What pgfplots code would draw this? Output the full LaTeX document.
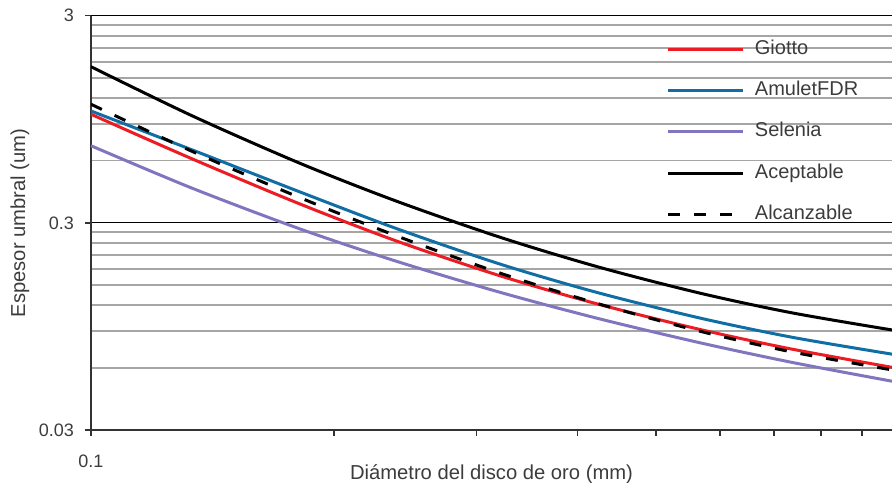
\documentclass[border=0pt]{standalone}
\usepackage{pgfplots}
\pgfplotsset{compat=1.18}
\usepackage{fontspec}
\setmainfont{Liberation Sans}
\definecolor{cRed}{RGB}{237,28,36}
\definecolor{cBlue}{RGB}{16,110,165}
\definecolor{cPurple}{RGB}{128,118,192}
\definecolor{cText}{RGB}{60,60,60}
\begin{document}
\begin{tikzpicture}
\begin{axis}[
  name=ax,
  scale only axis,
  width=400.5pt, height=207.15pt,
  xmode=log, ymode=log,
  xmin=0.1, xmax=0.98,
  ymin=0.03, ymax=3,
  axis x line*=bottom, axis y line*=left,
  axis line style={-, draw=black!80, line width=0.9pt},
  xtick={0.1}, xticklabels={0.1},
  minor xtick={0.2,0.3,0.4,0.5,0.6,0.7,0.8,0.9},
  ytick={0.03,0.3,3}, yticklabels={0.03,0.3,3},
  minor ytick={0.06,0.09,0.12,0.15,0.18,0.21,0.24,0.27,0.6,0.9,1.2,1.5,1.8,2.1,2.4,2.7},
  tick align=outside,
  major tick length=3pt, minor tick length=3pt,
  tick style={draw=black!80, line width=0.8pt},
  minor y tick style={draw=none},
  ymajorgrids, yminorgrids,
  major grid style={draw=black, line width=0.6pt},
  minor grid style={draw=black!35, line width=0.9pt},
  ticklabel style={font=\fontsize{9}{10}\selectfont, text=cText},
  xticklabel style={yshift=-6pt},
  yticklabel style={xshift=-2pt},
  xlabel={Diámetro del disco de oro (mm)},
  ylabel={Espesor umbral (um)},
  label style={font=\fontsize{10.1}{12}\selectfont, text=cText},
  xlabel style={at={(axis description cs:0.5,0)}, anchor=base, yshift=-25pt},
  ylabel style={at={(axis description cs:0,0.5)}, anchor=center, yshift=35.5pt},
  legend image code/.code={\draw[#1] (0pt,0pt) -- (37.5pt,0pt); \path (42.5pt,0pt);},
  legend style={draw=none, fill=none, inner sep=0pt, outer sep=0pt,
    at={(rel axis cs:0.719,0.94)}, anchor=north west,
    font=\fontsize{10}{12}\selectfont, text=cText,
    row sep=11.6pt,
    nodes={inner ysep=0pt, inner xsep=0pt, text height=7pt, text depth=2pt}},
  legend cell align=left,
  every axis plot/.append style={line width=1.5pt, smooth},
]
\addplot[cRed] coordinates {
 (0.1,1.003) (0.1334,0.611) (0.1814,0.370) (0.2385,0.2456) (0.3208,0.1665)
 (0.4242,0.1215) (0.5671,0.0917) (0.7372,0.0737) (0.98,0.0602)};
\addlegendentry{Giotto}
\addplot[cBlue] coordinates {
 (0.1,1.040) (0.1334,0.675) (0.1814,0.423) (0.2385,0.282) (0.3208,0.1897)
 (0.4242,0.1379) (0.5671,0.1041) (0.7372,0.0841) (0.98,0.0697)};
\addlegendentry{AmuletFDR}
\addplot[cPurple] coordinates {
 (0.1,0.707) (0.1334,0.441) (0.1814,0.2804) (0.2385,0.1960) (0.3208,0.1386)
 (0.4242,0.1036) (0.5671,0.0791) (0.7372,0.0636) (0.98,0.0516)};
\addlegendentry{Selenia}
\addplot[black] coordinates {
 (0.1,1.702) (0.1334,0.986) (0.1814,0.5817) (0.2385,0.3824) (0.3208,0.2556)
 (0.4242,0.1838) (0.5671,0.1373) (0.7372,0.1103) (0.98,0.0912)};
\addlegendentry{Aceptable}
\addplot[black, dash pattern=on 6pt off 7pt] coordinates {
 (0.1,1.121) (0.1334,0.664) (0.1814,0.397) (0.2385,0.260) (0.3208,0.1716)
 (0.4242,0.1221) (0.5671,0.0899) (0.7372,0.0714) (0.98,0.0585)};
\addlegendentry{Alcanzable}
\coordinate (sw) at (rel axis cs:0,0);
\coordinate (ne) at (rel axis cs:1,1);
\end{axis}
\pgfresetboundingbox
\path[use as bounding box] ([xshift=-45.5pt,yshift=-26.5pt]sw) rectangle ([yshift=7.85pt]ne);
\end{tikzpicture}
\end{document}
